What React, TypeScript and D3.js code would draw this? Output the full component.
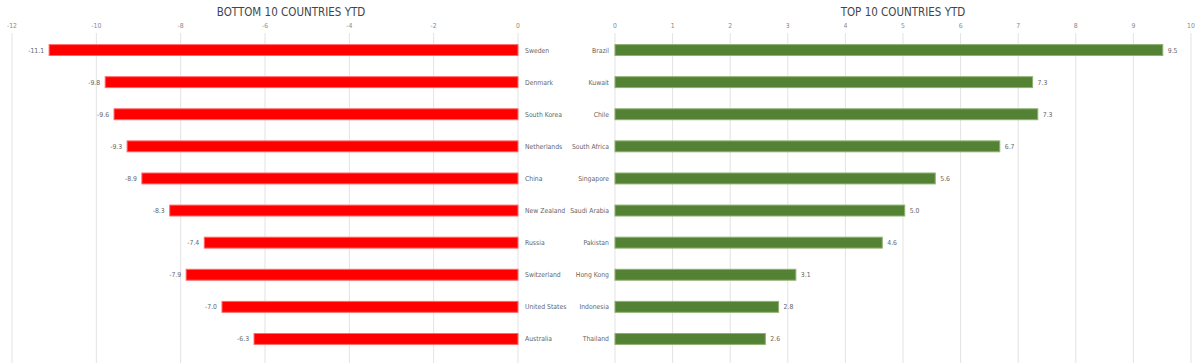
import * as d3 from "d3";

const bottomCountries = [
  "Sweden", "Denmark", "South Korea", "Netherlands", "China",
  "New Zealand", "Russia", "Switzerland", "United States", "Australia",
];
const bottomValues = [-11.12, -9.79, -9.58, -9.27, -8.92, -8.26, -7.44, -7.87, -7.02, -6.26];

const topCountries = [
  "Brazil", "Kuwait", "Chile", "South Africa", "Singapore",
  "Saudi Arabia", "Pakistan", "Hong Kong", "Indonesia", "Thailand",
];
const topValues = [9.51, 7.25, 7.34, 6.68, 5.56, 5.03, 4.64, 3.14, 2.84, 2.61];

const bottomTicks = [-12, -10, -8, -6, -4, -2, 0];
const topTicks = [0, 1, 2, 3, 4, 5, 6, 7, 8, 9, 10];

const W = 1200;
const H = 363;
const FONT = "'DejaVu Sans Condensed', 'Liberation Sans Narrow', sans-serif";
const GRID = "#e3e3e3";
const TICK_COLOR = "#8a8a8a";
const LABEL_COLOR = "#666";

function Panel({
  title,
  titleX,
  names,
  values,
  ticks,
  domain,
  range,
  fill,
  stroke,
  negative,
}: {
  title: string;
  titleX: number;
  names: string[];
  values: number[];
  ticks: number[];
  domain: [number, number];
  range: [number, number];
  fill: string;
  stroke: string;
  negative: boolean;
}) {
  const x = d3.scaleLinear().domain(domain).range(range);
  const y = d3.scaleBand<string>().domain(names).range([34, 355]).paddingInner(0.66).paddingOuter(0.33);
  const zero = x(0);
  const bh = y.bandwidth();

  return (
    <g>
      <text x={titleX} y={16} textAnchor="middle" fontSize={11.5} fill="#444">
        {title}
      </text>
      {ticks.map((t) => (
        <g key={t}>
          <line x1={x(t)} x2={x(t)} y1={33} y2={H} stroke={GRID} strokeWidth={1} />
          <text x={x(t)} y={28} textAnchor="middle" fontSize={6.8} fill={TICK_COLOR}>
            {t}
          </text>
        </g>
      ))}
      {names.map((name, i) => {
        const v = values[i];
        const yy = y(name) ?? 0;
        const x0 = Math.min(zero, x(v));
        const w = Math.abs(x(v) - zero);
        const cy = yy + bh / 2;
        return (
          <g key={name}>
            <rect x={x0} y={yy} width={w} height={bh} fill={fill} stroke={stroke} strokeWidth={1} />
            <text
              x={negative ? x(v) - 5 : x(v) + 5}
              y={cy + 2.5}
              textAnchor={negative ? "end" : "start"}
              fontSize={6.8}
              fill={LABEL_COLOR}
            >
              {v.toFixed(1)}
            </text>
            <text
              x={negative ? zero + 7 : zero - 6}
              y={cy + 2.5}
              textAnchor={negative ? "start" : "end"}
              fontSize={6.8}
              fill={LABEL_COLOR}
            >
              {name}
            </text>
          </g>
        );
      })}
    </g>
  );
}

export default function App() {
  return (
    <svg
      width={W}
      height={H}
      style={{ position: "absolute", left: 0, top: 0, fontFamily: FONT, background: "#fff" }}
    >
      <Panel
        title="BOTTOM 10 COUNTRIES YTD"
        titleX={291}
        names={bottomCountries}
        values={bottomValues}
        ticks={bottomTicks}
        domain={[-12, 0]}
        range={[12, 518]}
        fill="#ff0000"
        stroke="#ff6a6a"
        negative
      />
      <Panel
        title="TOP 10 COUNTRIES YTD"
        titleX={903}
        names={topCountries}
        values={topValues}
        ticks={topTicks}
        domain={[0, 10]}
        range={[615, 1191]}
        fill="#548235"
        stroke="#8fb070"
        negative={false}
      />
    </svg>
  );
}
